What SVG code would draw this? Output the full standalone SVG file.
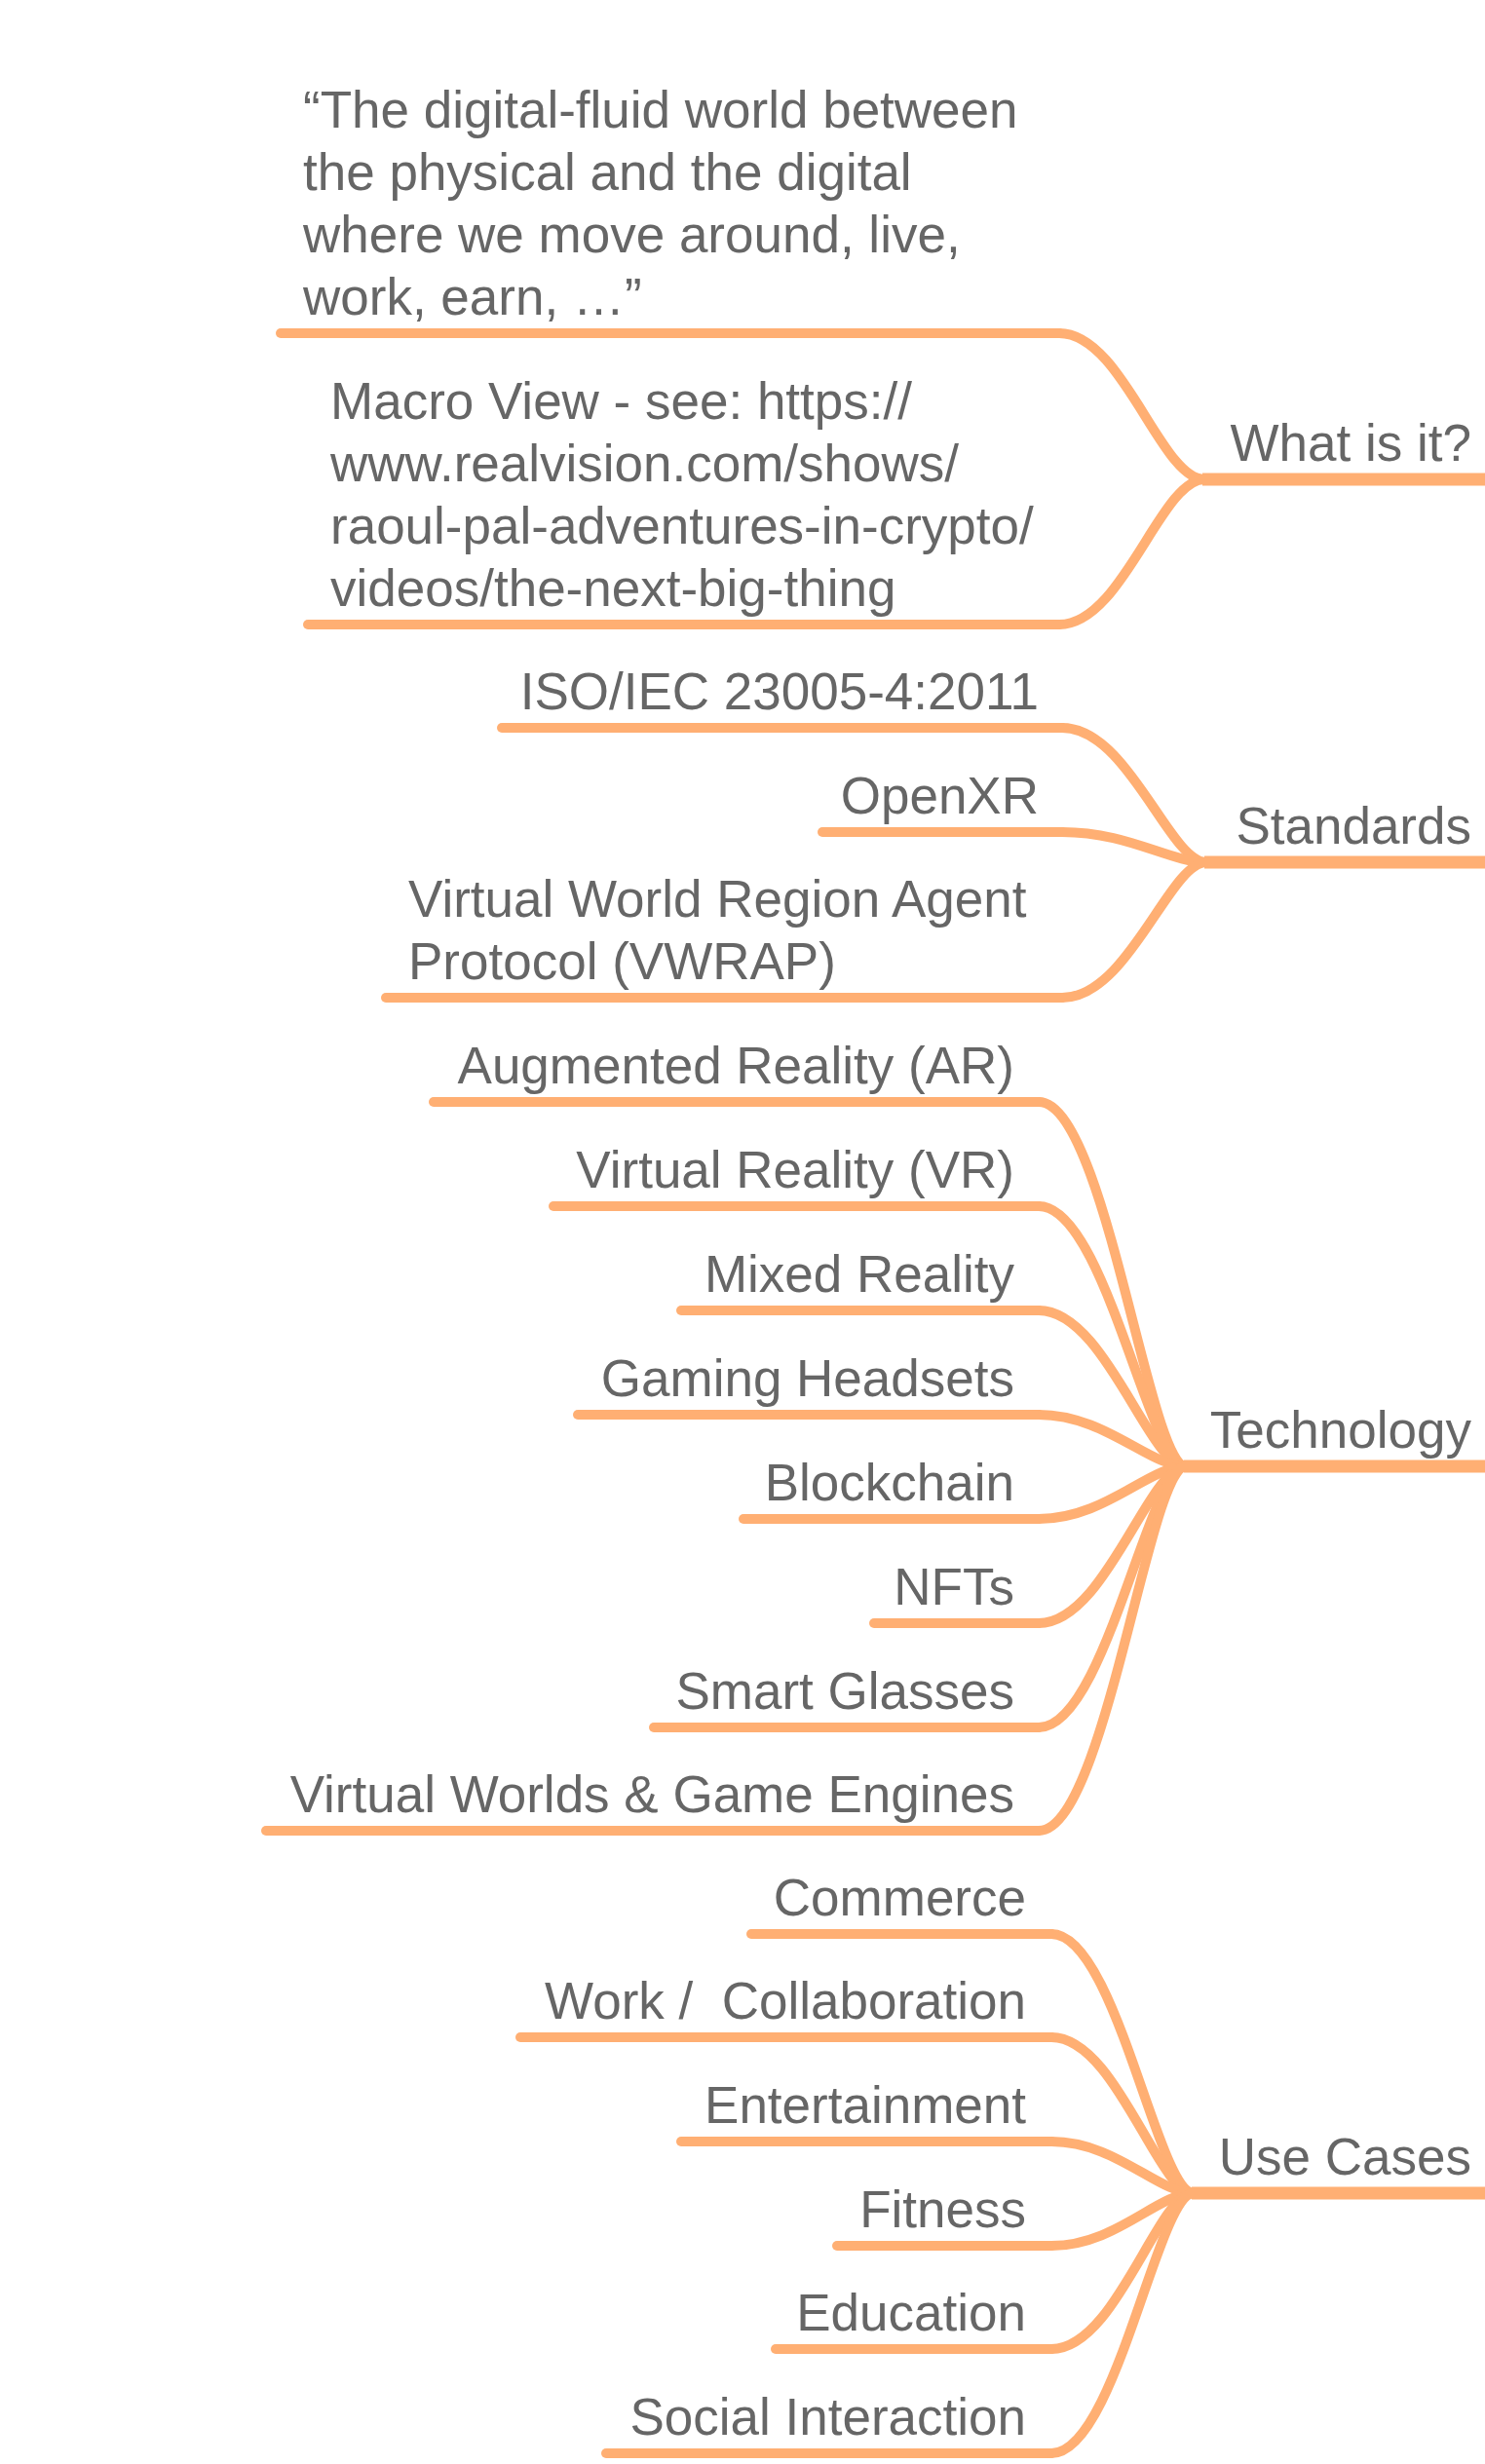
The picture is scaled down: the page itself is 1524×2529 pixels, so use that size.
<svg xmlns="http://www.w3.org/2000/svg" width="1524" height="2529" viewBox="0 0 1524 2529">
<style>
  .t { font-family: "Liberation Sans", Arial, Helvetica, sans-serif; font-size: 53px; fill: #666666; }
  .e { text-anchor: end; }
  .u { stroke: #FFAF73; stroke-width: 10; stroke-linecap: round; fill: none; }
  .m { stroke: #FFAF73; stroke-width: 13; stroke-linecap: butt; fill: none; }
  .c { stroke: #FFAF73; stroke-width: 10; stroke-linecap: round; fill: none; }
</style>
<rect width="1524" height="2529" fill="#ffffff"/>

<g id="connectors">
  <!-- What is it? -->
  <path class="c" d="M1087 342 C1152 342 1191 492 1236 492"/>
  <path class="c" d="M1087 641 C1152 641 1191 492 1236 492"/>
  <!-- Standards -->
  <path class="c" d="M1090 747 C1158 747 1200 885 1238 885"/>
  <path class="c" d="M1090 854 C1158 854 1200 885 1238 885"/>
  <path class="c" d="M1090 1024 C1158 1024 1200 885 1238 885"/>
  <!-- Technology -->
  <path class="c" d="M1066 1131 C1134 1131 1179 1505 1217 1505"/>
  <path class="c" d="M1066 1238 C1134 1238 1179 1505 1217 1505"/>
  <path class="c" d="M1066 1345 C1134 1345 1179 1505 1217 1505"/>
  <path class="c" d="M1066 1452 C1134 1452 1179 1505 1217 1505"/>
  <path class="c" d="M1066 1559 C1134 1559 1179 1505 1217 1505"/>
  <path class="c" d="M1066 1666 C1134 1666 1179 1505 1217 1505"/>
  <path class="c" d="M1066 1773 C1134 1773 1179 1505 1217 1505"/>
  <path class="c" d="M1066 1879 C1134 1879 1179 1505 1217 1505"/>
  <!-- Use Cases -->
  <path class="c" d="M1079 1985 C1145 1985 1188 2251 1225 2251"/>
  <path class="c" d="M1079 2091 C1145 2091 1188 2251 1225 2251"/>
  <path class="c" d="M1079 2198 C1145 2198 1188 2251 1225 2251"/>
  <path class="c" d="M1079 2305 C1145 2305 1188 2251 1225 2251"/>
  <path class="c" d="M1079 2411 C1145 2411 1188 2251 1225 2251"/>
  <path class="c" d="M1079 2518 C1145 2518 1188 2251 1225 2251"/>
</g>

<!-- Main nodes -->
<g id="what-is-it">
  <path class="m" d="M1234 492 L1530 492"/>
  <text class="t e" x="1510" y="473">What is it?</text>
</g>
<g id="standards">
  <path class="m" d="M1236 885 L1530 885"/>
  <text class="t e" x="1510" y="866">Standards</text>
</g>
<g id="technology">
  <path class="m" d="M1215 1505 L1530 1505"/>
  <text class="t e" x="1510" y="1486">Technology</text>
</g>
<g id="use-cases">
  <path class="m" d="M1223 2251 L1530 2251"/>
  <text class="t e" x="1510" y="2232">Use Cases</text>
</g>

<!-- What is it? children -->
<g id="quote">
  <path class="u" d="M288 342 L1087 342"/>
  <text class="t" x="311" y="131">“The digital-fluid world between</text>
  <text class="t" x="311" y="195">the physical and the digital</text>
  <text class="t" x="311" y="259">where we move around, live,</text>
  <text class="t" x="311" y="323">work, earn, …”</text>
</g>
<g id="macro-view">
  <path class="u" d="M316 641 L1087 641"/>
  <text class="t" x="339" y="430">Macro View - see: https://</text>
  <text class="t" x="339" y="494">www.realvision.com/shows/</text>
  <text class="t" x="339" y="558">raoul-pal-adventures-in-crypto/</text>
  <text class="t" x="339" y="622">videos/the-next-big-thing</text>
</g>

<!-- Standards children -->
<g id="iso">
  <path class="u" d="M515 747 L1090 747"/>
  <text class="t e" x="1066" y="728">ISO/IEC 23005-4:2011</text>
</g>
<g id="openxr">
  <path class="u" d="M844 854 L1090 854"/>
  <text class="t e" x="1066" y="835">OpenXR</text>
</g>
<g id="vwrap">
  <path class="u" d="M396 1024 L1090 1024"/>
  <text class="t" x="419" y="941">Virtual World Region Agent</text>
  <text class="t" x="419" y="1005">Protocol (VWRAP)</text>
</g>

<!-- Technology children -->
<g id="ar">
  <path class="u" d="M445 1131 L1066 1131"/>
  <text class="t e" x="1041" y="1112">Augmented Reality (AR)</text>
</g>
<g id="vr">
  <path class="u" d="M568 1238 L1066 1238"/>
  <text class="t e" x="1041" y="1219">Virtual Reality (VR)</text>
</g>
<g id="mixed-reality">
  <path class="u" d="M699 1345 L1066 1345"/>
  <text class="t e" x="1041" y="1326">Mixed Reality</text>
</g>
<g id="gaming-headsets">
  <path class="u" d="M593 1452 L1066 1452"/>
  <text class="t e" x="1041" y="1433">Gaming Headsets</text>
</g>
<g id="blockchain">
  <path class="u" d="M763 1559 L1066 1559"/>
  <text class="t e" x="1041" y="1540">Blockchain</text>
</g>
<g id="nfts">
  <path class="u" d="M897 1666 L1066 1666"/>
  <text class="t e" x="1041" y="1647">NFTs</text>
</g>
<g id="smart-glasses">
  <path class="u" d="M671 1773 L1066 1773"/>
  <text class="t e" x="1041" y="1754">Smart Glasses</text>
</g>
<g id="virtual-worlds">
  <path class="u" d="M273 1879 L1066 1879"/>
  <text class="t e" x="1041" y="1860">Virtual Worlds &amp; Game Engines</text>
</g>

<!-- Use Cases children -->
<g id="commerce">
  <path class="u" d="M771 1985 L1079 1985"/>
  <text class="t e" x="1053" y="1966">Commerce</text>
</g>
<g id="work-collaboration">
  <path class="u" d="M534 2091 L1079 2091"/>
  <text class="t e" x="1053" y="2072" style="white-space:pre">Work /  Collaboration</text>
</g>
<g id="entertainment">
  <path class="u" d="M699 2198 L1079 2198"/>
  <text class="t e" x="1053" y="2179">Entertainment</text>
</g>
<g id="fitness">
  <path class="u" d="M859 2305 L1079 2305"/>
  <text class="t e" x="1053" y="2286">Fitness</text>
</g>
<g id="education">
  <path class="u" d="M796 2411 L1079 2411"/>
  <text class="t e" x="1053" y="2392">Education</text>
</g>
<g id="social-interaction">
  <path class="u" d="M622 2518 L1079 2518"/>
  <text class="t e" x="1053" y="2499">Social Interaction</text>
</g>
</svg>
